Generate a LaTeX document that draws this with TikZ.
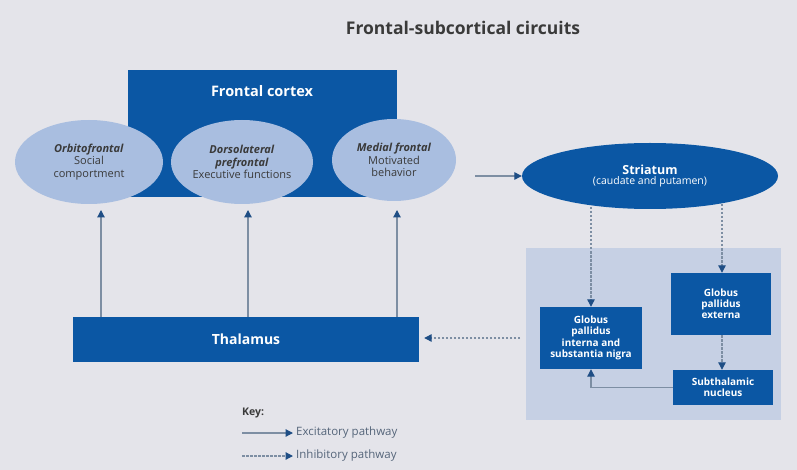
\documentclass[tikz,border=0pt]{standalone}
\usepackage{fontspec}
\setmainfont{Open Sans}
\usetikzlibrary{shapes.geometric,arrows.meta,calc}
\definecolor{bg}{HTML}{E4E4EA}
\definecolor{dblue}{HTML}{0B57A4}
\definecolor{lblue}{HTML}{A9BEE0}
\definecolor{panel}{HTML}{C6D0E4}
\definecolor{linec}{HTML}{7D8EA3}
\definecolor{tipc}{HTML}{1F4E85}
\definecolor{titlec}{HTML}{3A3A3A}
\definecolor{keyc}{HTML}{55657A}
\begin{document}
\begin{tikzpicture}[x=1pt,y=-1pt,
 darkbox/.style={rectangle, fill=dblue, draw=none, text=white, font=\bfseries\fontsize{10}{11.2}\selectfont, align=center, inner sep=0pt},
 oval/.style={ellipse, fill=lblue, draw=none, inner sep=0pt, align=center, font=\fontsize{11}{12.5}\selectfont, text=titlec},
 exc/.style={draw=linec, line width=1.2pt, -{Triangle[width=7.5pt,length=7.5pt,fill=tipc,color=tipc]}},
 inh/.style={exc, dash pattern=on 2.5pt off 1.5pt},
]
\fill[bg] (0,0) rectangle (797,470);
\useasboundingbox (0,0) rectangle (797,470);

\node[font=\bfseries\fontsize{17.5}{20}\selectfont, text=titlec] (title) at (463,28) {Frontal-subcortical circuits};

% frontal cortex
\node[darkbox, minimum width=269pt, minimum height=127pt, anchor=north west] (fc) at (128,70) {};
\node[font=\bfseries\fontsize{14.5}{16}\selectfont, text=white] (fclabel) at (262,91) {Frontal cortex};

\node[oval, minimum width=148pt, minimum height=84pt] (orb) at (89,162) {\textbf{\textit{Orbitofrontal}}\\Social\\comportment};
\node[oval, minimum width=142pt, minimum height=84pt] (dlp) at (242,162) {\textbf{\textit{Dorsolateral}}\\\textbf{\textit{prefrontal}}\\Executive functions};
\node[oval, minimum width=124pt, minimum height=82pt] (med) at (394,160) {\textbf{\textit{Medial frontal}}\\Motivated\\behavior};

% thalamus
\node[darkbox, minimum width=346pt, minimum height=45pt, font=\bfseries\fontsize{14}{16}\selectfont] (thal) at (246,339.5) {Thalamus};

% striatum
\node[ellipse, fill=dblue, draw=none, inner sep=0pt, minimum width=256pt, minimum height=66pt, align=center, text=white] (str) at (650,176) {{\bfseries\fontsize{12.5}{13}\selectfont Striatum}\\[-2pt]{\fontsize{10.5}{11}\selectfont (caudate and putamen)}};

% panel
\node[rectangle, fill=panel, draw=none, minimum width=255pt, minimum height=172pt, anchor=north west, inner sep=0pt] (panel) at (526,248) {};

\node[darkbox, minimum width=102pt, minimum height=62pt] (gpi) at (591,338) {Globus\\pallidus\\interna and\\substantia nigra};
\node[darkbox, minimum width=100pt, minimum height=62pt] (gpe) at (721,304) {Globus\\pallidus\\externa};
\node[darkbox, minimum width=100pt, minimum height=35pt] (stn) at (723,387.5) {Subthalamic\\nucleus};

% excitatory thalamus -> cortex
\coordinate (a1) at (101,210);
\coordinate (a2) at (248,210);
\coordinate (a3) at (397,210);
\draw[exc] (thal.north -| a1) -- (a1);
\draw[exc] (thal.north -| a2) -- (a2);
\draw[exc] (thal.north -| a3) -- (a3);

% medial -> striatum
\coordinate (m1) at (475,176);
\draw[exc] (m1) -- (str.west);

% striatum -> GPi / GPe
\coordinate (s1) at (591,207);
\coordinate (s2) at (722,204);
\draw[inh] (s1) -- (gpi.north);
\draw[inh] (s2) -- (s2 |- gpe.north);
\draw[inh] (gpe.south -| s2) -- (s2 |- stn.north);
\draw[exc] (stn.west) -| (gpi.south);

% GPi -> thalamus
\coordinate (g1) at (520,338);
\draw[inh] (g1) -- ($(thal.east |- g1)+(5,0)$);

% key
\node[anchor=west, font=\bfseries\fontsize{10.5}{12}\selectfont, text=titlec, inner sep=0pt] (key) at (242,413) {Key:};
\node[anchor=west, font=\fontsize{11.5}{13}\selectfont, text=keyc, inner sep=0pt] (ktext1) at (296,433) {Excitatory pathway};
\node[anchor=west, font=\fontsize{11.5}{13}\selectfont, text=keyc, inner sep=0pt] (ktext2) at (296,456) {Inhibitory pathway};
\coordinate (k1) at (242,433);
\coordinate (k2) at (242,456);
\draw[exc] (k1) -- ($(ktext1.west)+(-3,0)$);
\draw[inh] (k2) -- ($(ktext2.west)+(-3,0)$);
\end{tikzpicture}
\end{document}
